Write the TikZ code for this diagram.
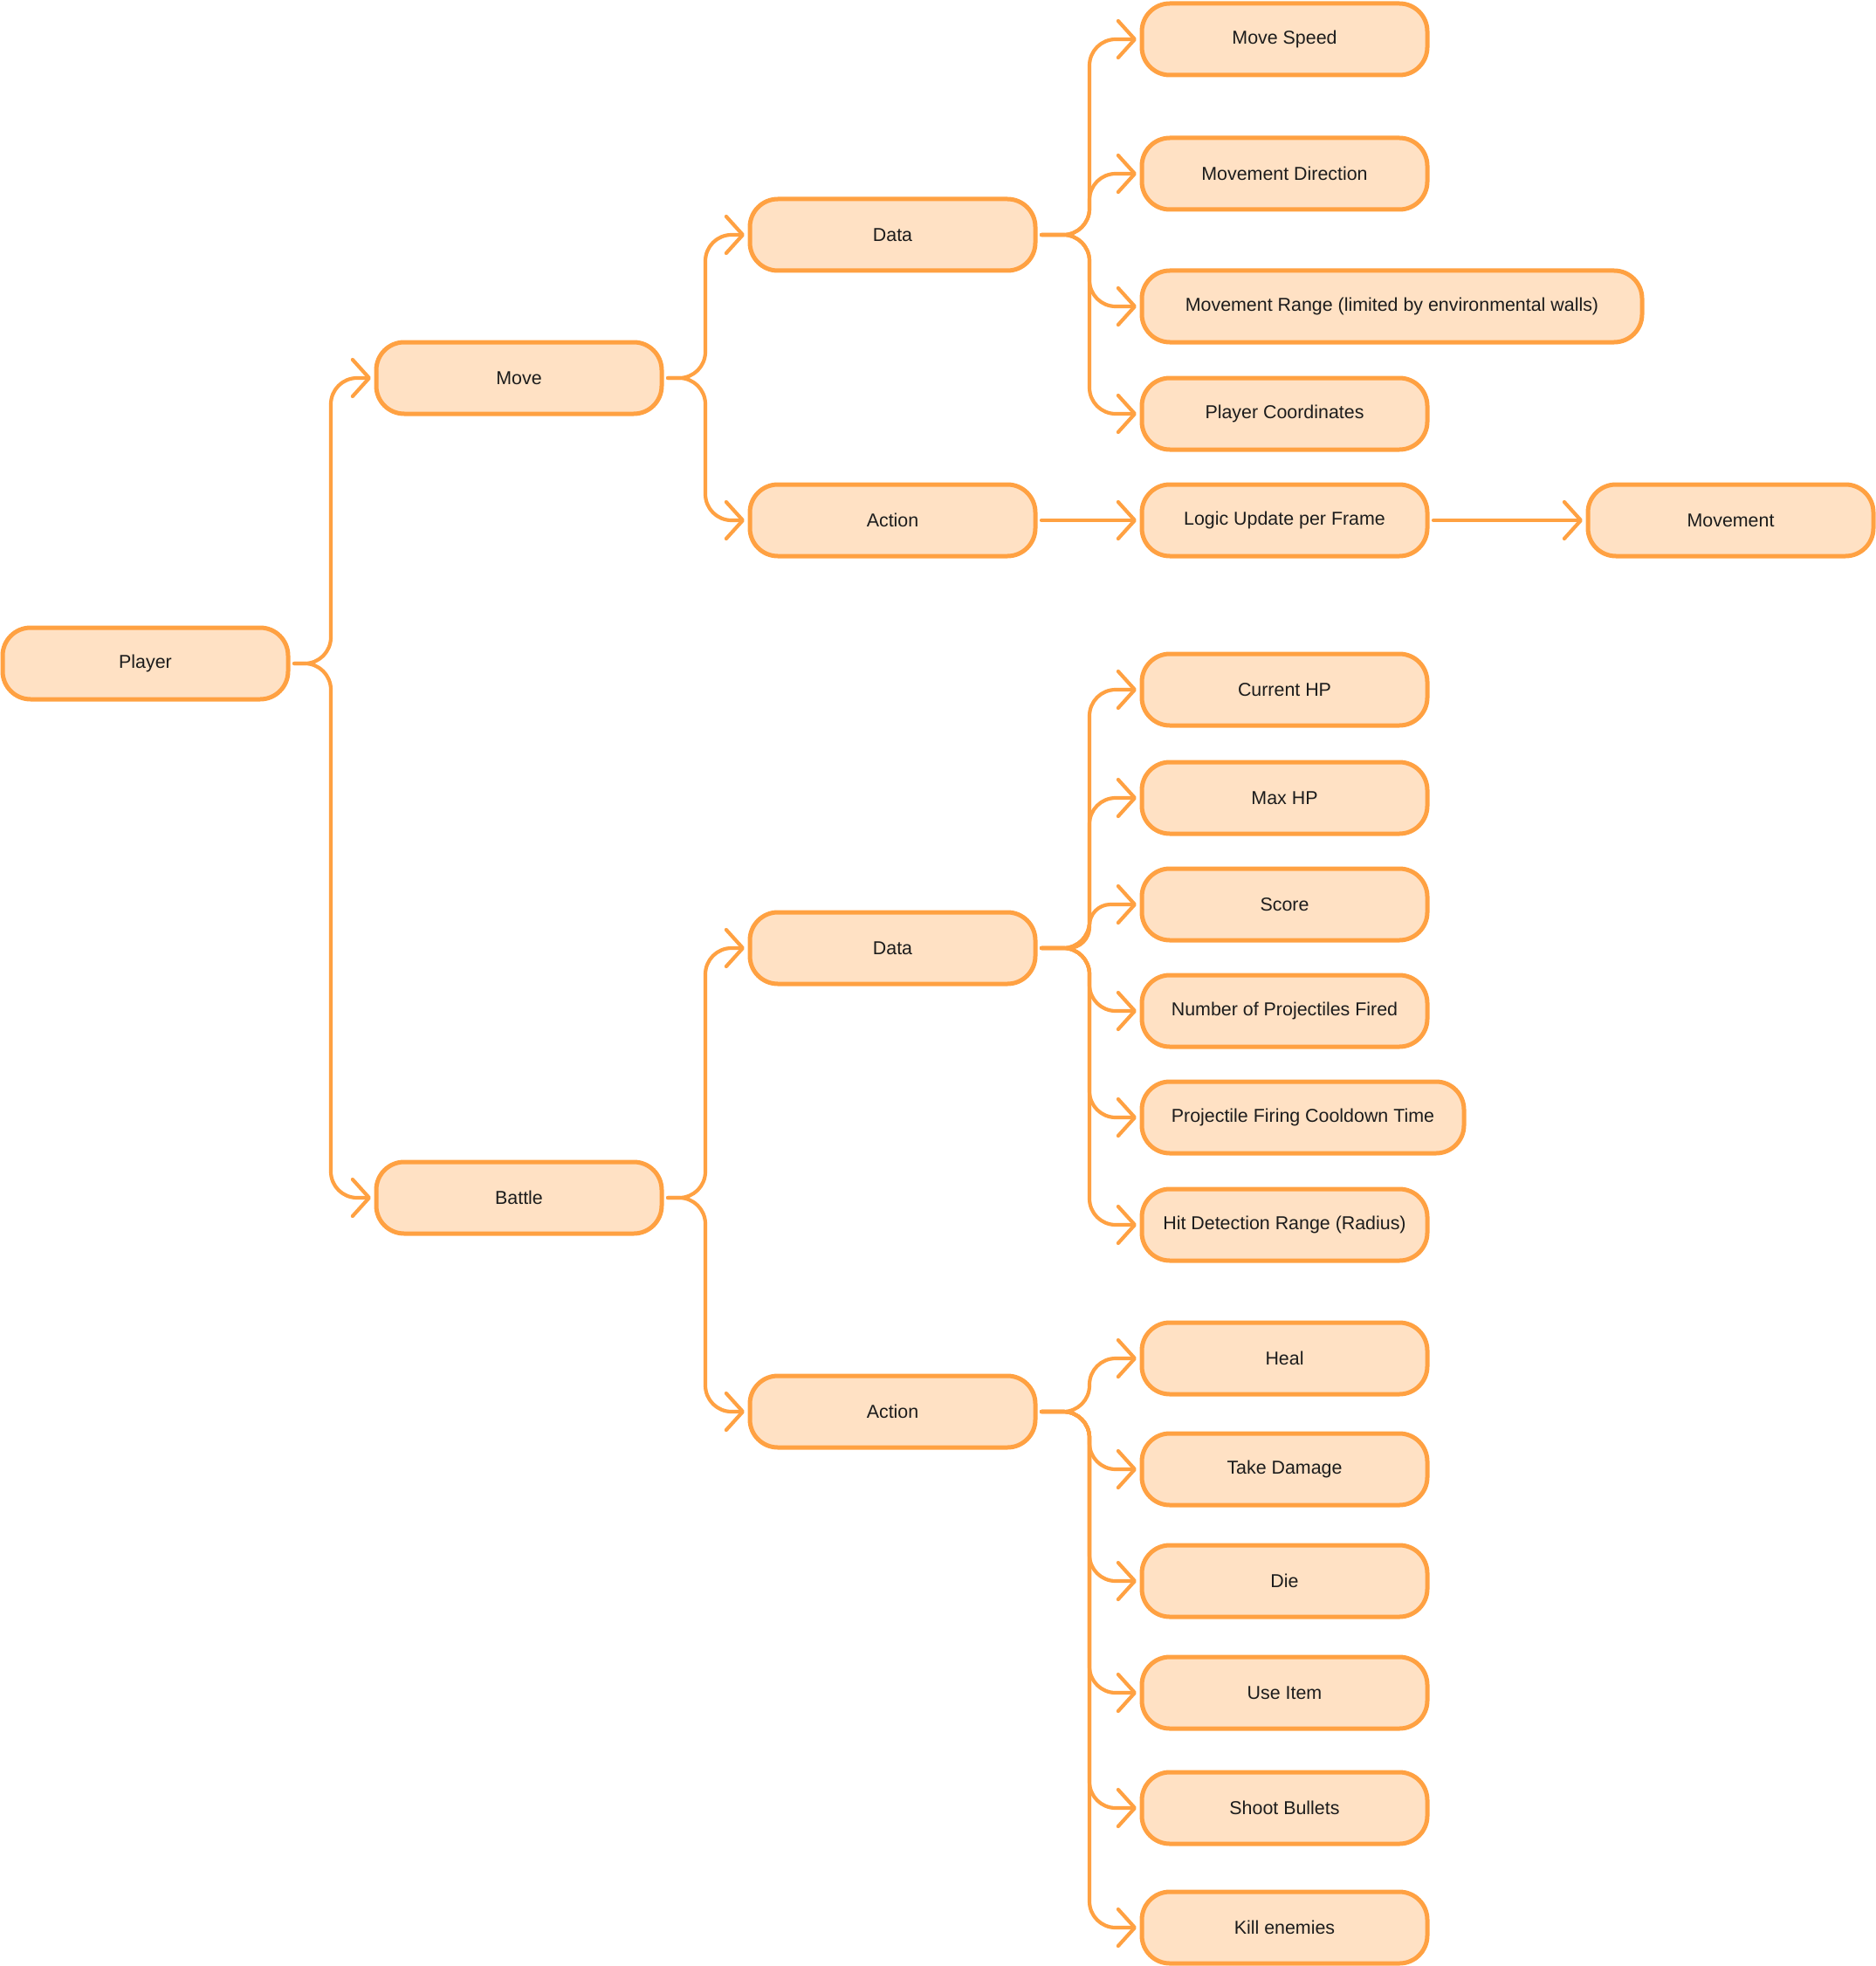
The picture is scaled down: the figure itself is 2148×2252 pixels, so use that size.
\documentclass[tikz,border=0pt]{standalone}
\usepackage{fontspec}
\setmainfont{Liberation Sans}
\usetikzlibrary{arrows.meta}
\definecolor{boxfill}{HTML}{FFE1C4}
\definecolor{boxline}{HTML}{FFA142}
\definecolor{txt}{HTML}{1C1C1C}
\begin{document}
\begin{tikzpicture}[x=0.5pt,y=-0.5pt,
  box/.style={draw=boxline, fill=boxfill, line width=2.5pt, rounded corners=16pt,
    minimum height=41pt, inner sep=0pt, outer sep=0pt, anchor=west, text=txt,
    font=\fontsize{10.7}{12}\selectfont, minimum width=163.5pt},
  conn/.style={draw=boxline, line width=2.1pt, rounded corners=15pt, line cap=round,
    -{Straight Barb[length=9.5pt,width=21pt,line width=2.1pt,round]}}
]
\useasboundingbox (0,0) rectangle (2148,2252);
% trunks
\coordinate (t0) at (379,0);
\coordinate (t1) at (808,0);
\coordinate (t2) at (1248,0);
% level 0-2
\node[box] (player) at (3,760) {Player};
\node[box] (move) at (431,433) {Move};
\node[box] (battle) at (431,1372) {Battle};
\node[box] (data1) at (859,269) {Data};
\node[box] (act1) at (859,596) {Action};
\node[box] (data2) at (859,1086) {Data};
\node[box] (act2) at (859,1617) {Action};
% move data leaves
\node[box] (speed) at (1308,45) {Move Speed};
\node[box] (dir) at (1308,199) {Movement Direction};
\node[box, minimum width=286.5pt] (range) at (1308,351) {Movement Range (limited by environmental walls)};
\node[box] (coord) at (1308,474) {Player Coordinates};
\node[box] (logic) at (1308,596) {Logic Update per Frame};
\node[box] (movement) at (1819,596) {Movement};
% battle data leaves
\node[box] (curhp) at (1308,790) {Current HP};
\node[box] (maxhp) at (1308,914) {Max HP};
\node[box] (score) at (1308,1036) {Score};
\node[box] (nproj) at (1308,1158) {Number of Projectiles Fired};
\node[box, minimum width=184.5pt] (cool) at (1308,1280) {Projectile Firing Cooldown Time};
\node[box] (hit) at (1308,1403) {Hit Detection Range (Radius)};
% battle action leaves
\node[box] (heal) at (1308,1556) {Heal};
\node[box] (dmg) at (1308,1683) {Take Damage};
\node[box] (die) at (1308,1811) {Die};
\node[box] (item) at (1308,1939) {Use Item};
\node[box] (shoot) at (1308,2071) {Shoot Bullets};
\node[box] (kill) at (1308,2208) {Kill enemies};
% connectors
\foreach \p/\t/\c in {player/t0/move, player/t0/battle,
  move/t1/data1, move/t1/act1, battle/t1/data2, battle/t1/act2,
  data1/t2/speed, data1/t2/dir, data1/t2/range, data1/t2/coord,
  data2/t2/curhp, data2/t2/maxhp, data2/t2/nproj, data2/t2/cool, data2/t2/hit,
  act2/t2/heal, act2/t2/dmg, act2/t2/die, act2/t2/item, act2/t2/shoot, act2/t2/kill}
  \draw[conn] ([xshift=3.5pt]\p.east) -- (\t |- \p.east) |- ([xshift=-3pt]\c.west);
\draw[conn, rounded corners=12pt] ([xshift=3.5pt]data2.east) -- (t2 |- data2.east) |- ([xshift=-3pt]score.west);
\draw[conn] ([xshift=3.5pt]act1.east) -- ([xshift=-3pt]logic.west);
\draw[conn] ([xshift=3.5pt]logic.east) -- ([xshift=-3pt]movement.west);
\end{tikzpicture}
\end{document}
